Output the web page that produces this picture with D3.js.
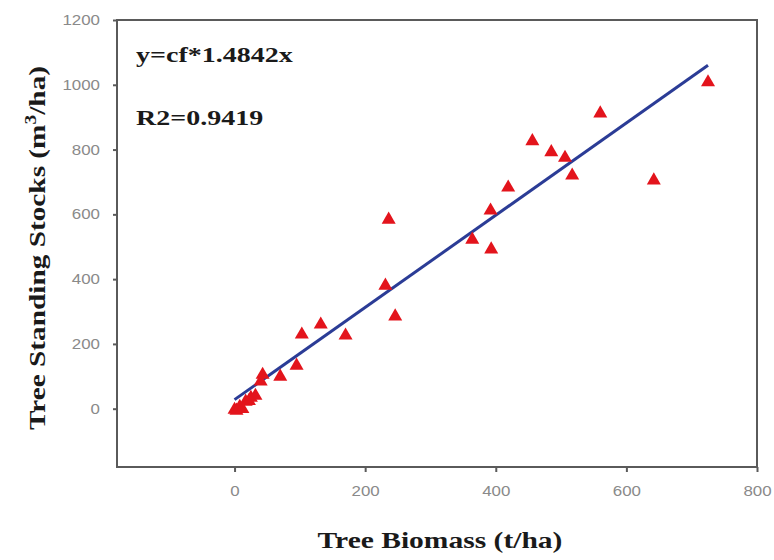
<!DOCTYPE html>
<html>
<head>
<meta charset="utf-8">
<script src="https://cdn.jsdelivr.net/npm/d3@7/dist/d3.min.js"></script>
<style>
  html, body { margin: 0; padding: 0; background: #fff; }
  svg { display: block; }
</style>
</head>
<body>
<svg id="chart" width="774" height="560"></svg>
<script>
// Tree biomass (t/ha) vs tree standing stock (m3/ha)
const biomass = [0, 3, 8, 12, 17, 22, 25, 32, 40, 43, 70, 95, 103, 132, 170, 231, 236, 246,
                 364, 392, 393, 419, 456, 485, 506, 517, 560, 642, 725];
const stock   = [3, 0, 12, 5, 28, 30, 40, 46, 90, 111, 105, 139, 235, 266, 232, 386, 590, 291,
                 528, 618, 498, 689, 832, 798, 781, 726, 918, 711, 1014];

// Fitted line end points
const fitX = [0, 725];
const fitY = [28, 1060];

const xTicks = [0, 200, 400, 600, 800];
const yTicks = [0, 200, 400, 600, 800, 1000, 1200];
const xDomain = [-180, 800];
const yDomain = [-180, 1200];

const equationText = "y=cf*1.4842x";
const r2Text = "R2=0.9419";

const svg = d3.select("#chart");
const plot = { left: 117, right: 757, top: 20, bottom: 467 };

const x = d3.scaleLinear().domain(xDomain).range([plot.left, plot.right]);
const y = d3.scaleLinear().domain(yDomain).range([plot.bottom, plot.top]);

// Plot frame
svg.append("rect")
  .attr("x", plot.left).attr("y", plot.top)
  .attr("width", plot.right - plot.left).attr("height", plot.bottom - plot.top)
  .attr("fill", "none").attr("stroke", "#5a5a5a").attr("stroke-width", 2);

// Axes
const fmt = d3.format("d");
const xAxis = d3.axisBottom(x).tickValues(xTicks).tickFormat(fmt).tickSize(5).tickPadding(9);
const yAxis = d3.axisLeft(y).tickValues(yTicks).tickFormat(fmt).tickSize(4).tickPadding(13);

const gx = svg.append("g").attr("transform", `translate(0,${plot.bottom})`).call(xAxis);
const gy = svg.append("g").attr("transform", `translate(${plot.left},0)`).call(yAxis);

[gx, gy].forEach(g => {
  g.select(".domain").remove();
  g.selectAll(".tick line").attr("stroke", "#5a5a5a").attr("stroke-width", 2);
  g.selectAll(".tick text")
    .attr("fill", "#8a8a8a")
    .attr("font-family", "'Liberation Sans', Arial, sans-serif")
    .attr("font-size", 14)
    .attr("lengthAdjust", "spacingAndGlyphs")
    .attr("textLength", function () { return this.textContent.length * 9.4; });
});
gx.selectAll(".tick text").attr("dy", "1.1em");

// Fitted line
svg.append("line")
  .attr("x1", x(fitX[0])).attr("y1", y(fitY[0]))
  .attr("x2", x(fitX[1])).attr("y2", y(fitY[1]))
  .attr("stroke", "#2b3c96").attr("stroke-width", 3);

// Observations (triangles nudged so their box centre sits on the value)
const pts = biomass.map((b, i) => ({ b, s: stock[i] }));
svg.append("g").selectAll("path")
  .data(pts)
  .join("path")
  .attr("d", d3.symbol().type(d3.symbolTriangle).size(85))
  .attr("transform", d => `translate(${x(d.b)},${y(d.s) + 2})`)
  .attr("fill", "#e3141c");

// Annotations
const serif = "'Liberation Serif', 'Times New Roman', serif";
function wideText(tx, ty, rot, sx, size) {
  return svg.append("text")
    .attr("transform", `translate(${tx},${ty}) rotate(${rot}) scale(${sx},1)`)
    .attr("font-family", serif).attr("font-weight", "bold").attr("font-size", size)
    .attr("fill", "#1a1a1a");
}

wideText(136, 62, 0, 1.4, 20).text(equationText);
wideText(136, 125, 0, 1.4, 20).text(r2Text);

// Axis titles
wideText(440, 548, 0, 1.23, 24).attr("text-anchor", "middle").text("Tree Biomass (t/ha)");

const yTitle = wideText(45, 248, -90, 1.22, 24).attr("text-anchor", "middle");
yTitle.append("tspan").text("Tree Standing Stocks (m");
yTitle.append("tspan").attr("font-size", 16).attr("dy", -9).text("3");
yTitle.append("tspan").attr("dy", 9).text("/ha)");
</script>
</body>
</html>
